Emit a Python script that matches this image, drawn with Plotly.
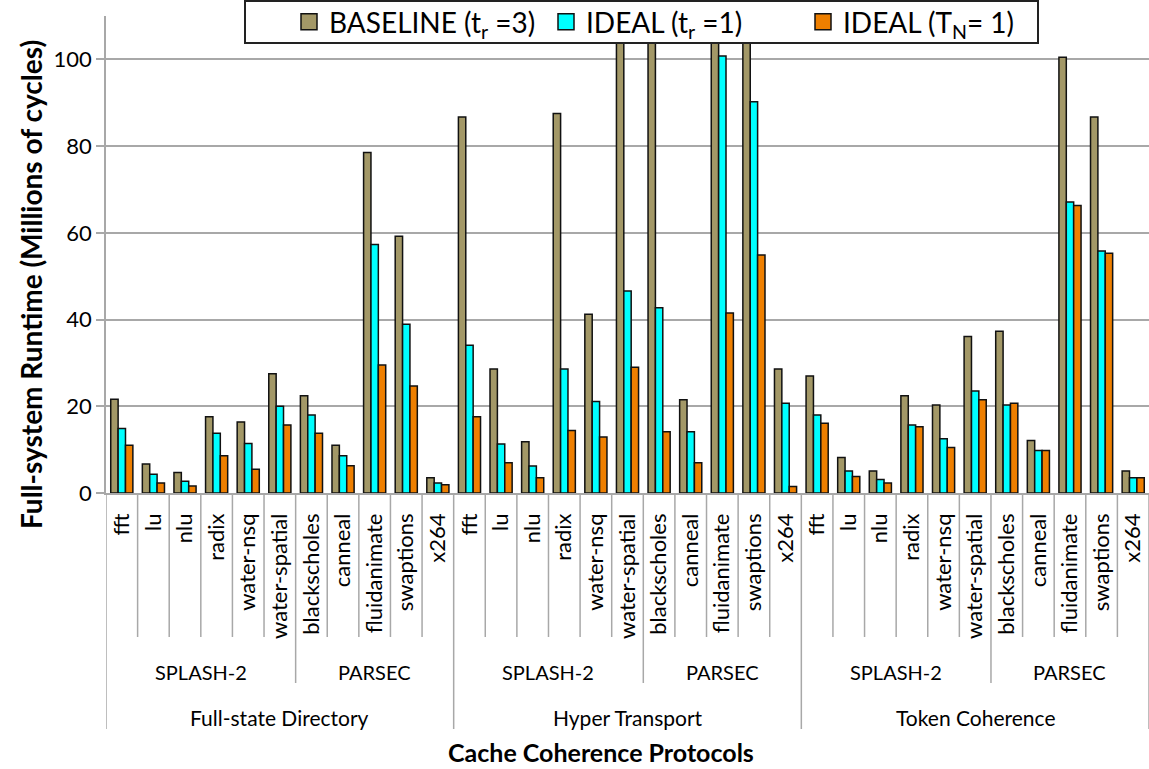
import plotly.graph_objects as go

# ---- data -------------------------------------------------------------
protocols = ["Full-state Directory", "Hyper Transport", "Token Coherence"]
suite_names = ["SPLASH-2", "PARSEC"]
splash2 = ["fft", "lu", "nlu", "radix", "water-nsq", "water-spatial"]
parsec = ["blackscholes", "canneal", "fluidanimate", "swaptions", "x264"]

# runtimes in millions of cycles, ordered protocol -> suite -> benchmark
baseline_tr3 = [
    21.6, 6.7, 4.7, 17.6, 16.4, 27.5,      # FSD SPLASH-2
    22.4, 11.0, 78.5, 59.2, 3.5,           # FSD PARSEC
    86.7, 28.6, 11.8, 87.5, 41.2, 115.0,   # HT SPLASH-2
    120.0, 21.5, 140.0, 125.0, 28.6,       # HT PARSEC
    27.0, 8.2, 5.1, 22.4, 20.3, 36.1,      # TC SPLASH-2
    37.3, 12.1, 100.5, 86.7, 5.1,          # TC PARSEC
]
ideal_tr1 = [
    14.9, 4.3, 2.7, 13.8, 11.4, 20.0,
    18.0, 8.6, 57.3, 38.9, 2.3,
    34.1, 11.3, 6.2, 28.6, 21.1, 46.6,
    42.7, 14.1, 100.8, 90.2, 20.7,
    18.0, 5.1, 3.1, 15.7, 12.5, 23.5,
    20.3, 9.8, 67.1, 55.8, 3.5,
]
ideal_tn1 = [
    11.0, 2.3, 1.6, 8.6, 5.5, 15.7,
    13.8, 6.3, 29.5, 24.7, 1.9,
    17.6, 7.0, 3.5, 14.4, 12.9, 29.0,
    14.1, 7.0, 41.5, 54.9, 1.5,
    16.1, 3.8, 2.3, 15.3, 10.5, 21.5,
    20.7, 9.8, 66.3, 55.3, 3.5,
]

series_names = ["BASELINE (t<sub>r</sub> =3)", "IDEAL (t<sub>r</sub> =1)", "IDEAL (T<sub>N</sub>= 1)"]
series_colors = ["#A39867", "#00FFFF", "#EE7F00"]
y_ticks = [0, 20, 40, 60, 80, 100]

# ---- category layout ---------------------------------------------------
suites = [splash2, parsec]
bench_labels, suite_spans, proto_spans = [], [], []
for proto in protocols:
    p_start = len(bench_labels)
    for sname, benches in zip(suite_names, suites):
        s_start = len(bench_labels)
        bench_labels.extend(benches)
        suite_spans.append((sname, s_start, len(bench_labels) - 1))
    proto_spans.append((proto, p_start, len(bench_labels) - 1))
xpos = list(range(len(bench_labels)))

FONT = "Lato"
GRID = "#A8A8A8"

fig = go.Figure()
for name, vals, col in zip(series_names, [baseline_tr3, ideal_tr1, ideal_tn1], series_colors):
    fig.add_trace(go.Bar(
        x=xpos, y=vals, name=name, showlegend=False,
        marker=dict(color=col, line=dict(color="#111111", width=1.5)),
    ))
    # larger square swatch for the legend
    fig.add_trace(go.Scatter(
        x=[None], y=[None], mode="markers", name=name,
        marker=dict(symbol="square", size=16, color=col, line=dict(color="#111111", width=1.5)),
    ))

# ---- hierarchical axis dividers & labels --------------------------------
W_PLOT, H_PLOT, LEFT, BOTTOM_ROW = 1043, 477, 106, 493


def py(px):  # pixel row -> paper y
    return (BOTTOM_ROW - px) / H_PLOT


def pxp(px):  # pixel column -> paper x
    return (px - LEFT) / W_PLOT


shapes = []
suite_bounds = {s[1] for s in suite_spans}
proto_bounds = {p[1] for p in proto_spans} | {len(bench_labels)}
for i in range(len(bench_labels) + 1):
    if i in proto_bounds:
        y1 = py(729)
    elif i in suite_bounds:
        y1 = py(683)
    else:
        y1 = py(637)
    shapes.append(dict(type="line", xref="x", yref="paper", x0=i - 0.5, x1=i - 0.5,
                       y0=0, y1=y1, line=dict(color=GRID, width=1.5)))

# legend frame (sits over the top of the plot area)
shapes.append(dict(type="rect", xref="paper", yref="paper", layer="above",
                   x0=pxp(245), x1=pxp(1038), y0=py(43), y1=py(1),
                   fillcolor="white", line=dict(color="#222222", width=2)))

annotations = []
for sname, a, b in suite_spans:
    annotations.append(dict(x=(a + b) / 2, y=py(672), xref="x", yref="paper", text=sname,
                            xanchor="center", yanchor="middle", showarrow=False,
                            font=dict(family=FONT, size=20, color="black")))
for pname, a, b in proto_spans:
    annotations.append(dict(x=(a + b) / 2, y=py(717), xref="x", yref="paper", text=pname,
                            xanchor="center", yanchor="middle", showarrow=False,
                            font=dict(family=FONT, size=21, color="black")))
annotations.append(dict(x=pxp(601), y=py(752), xref="paper", yref="paper",
                        xanchor="center", yanchor="middle",
                        text="<b>Cache Coherence Protocols</b>", showarrow=False,
                        font=dict(family=FONT, size=25, color="black")))
annotations.append(dict(x=pxp(31), y=py(285), xref="paper", yref="paper",
                        xanchor="center", yanchor="middle",
                        text="<b>Full-system Runtime (Millions of cycles)</b>", textangle=-90,
                        showarrow=False, font=dict(family=FONT, size=28, color="black")))

fig.update_layout(
    width=1149, height=769,
    margin=dict(l=LEFT, r=0, t=16, b=769 - BOTTOM_ROW, autoexpand=False),
    paper_bgcolor="white", plot_bgcolor="white",
    barmode="group", bargap=0.3, bargroupgap=0,
    font=dict(family=FONT, color="black"),
    shapes=shapes, annotations=annotations,
    legend=dict(
        orientation="h", x=pxp(289), xanchor="left", y=py(22), yanchor="middle",
        bgcolor="rgba(0,0,0,0)", borderwidth=0,
        font=dict(family=FONT, size=28, color="black"),
        entrywidth=212, entrywidthmode="pixels",
    ),
    xaxis=dict(
        range=[-0.5, len(bench_labels) - 0.5], tickvals=xpos, ticktext=bench_labels,
        tickangle=-90, ticks="", showgrid=False, zeroline=False,
        showline=True, linecolor=GRID, linewidth=1.5,
        tickfont=dict(family=FONT, size=22, color="black"), ticklabelstandoff=10,
    ),
    yaxis=dict(
        range=[0, 110], tickvals=y_ticks, ticks="outside", ticklen=8, tickcolor=GRID,
        tickwidth=1.5, showgrid=True, gridcolor=GRID, gridwidth=1.5, zeroline=False,
        showline=True, linecolor=GRID, linewidth=1.5,
        tickfont=dict(family=FONT, size=22, color="black"),
    ),
)

fig.write_html("out.html")
